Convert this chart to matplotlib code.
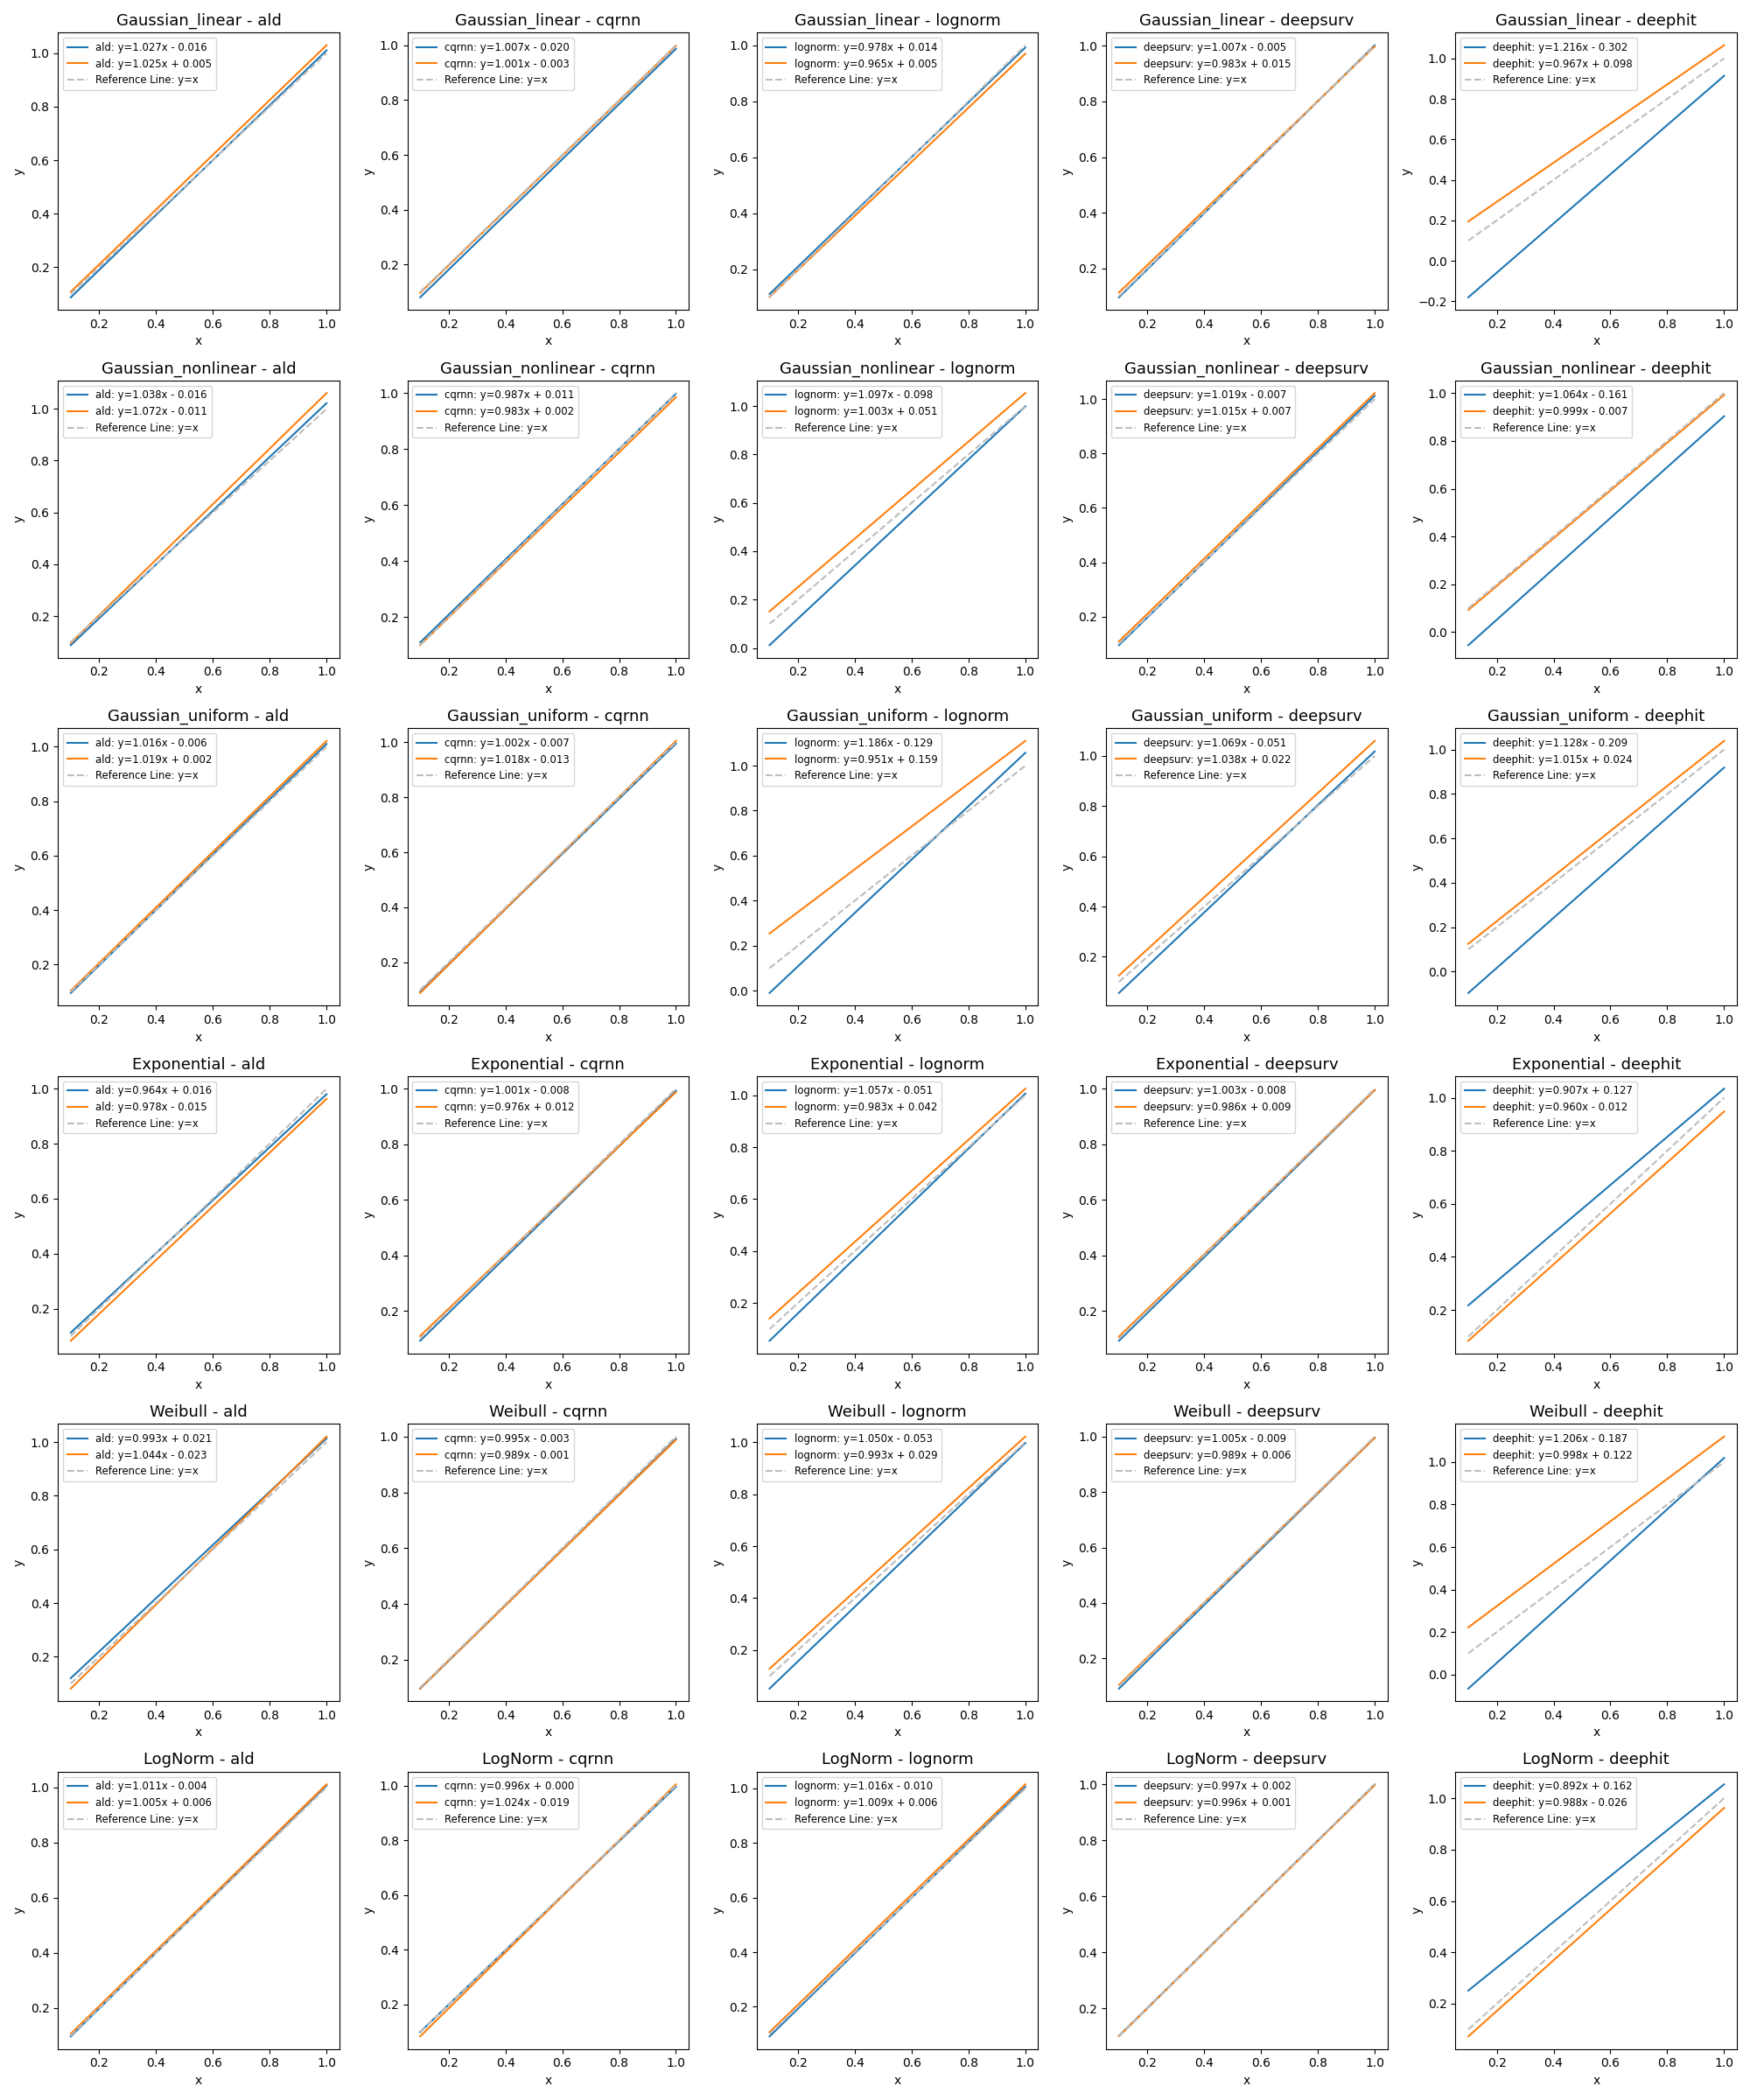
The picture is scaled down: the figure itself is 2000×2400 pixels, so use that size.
import numpy as np
import matplotlib
matplotlib.use('Agg')
import matplotlib.pyplot as plt

# 数据分布 / 模型
distributions = ['Gaussian_linear', 'Gaussian_nonlinear', 'Gaussian_uniform',
                 'Exponential', 'Weibull', 'LogNorm']
models = ['ald', 'cqrnn', 'lognorm', 'deepsurv', 'deephit']

x_range = np.array([0.1, 1.0])

# 每行一个分布，每列一个模型: (斜率, 截距)
slope_1 = [
    [1.027, 1.007, 0.978, 1.007, 1.216],
    [1.038, 0.987, 1.097, 1.019, 1.064],
    [1.016, 1.002, 1.186, 1.069, 1.128],
    [0.964, 1.001, 1.057, 1.003, 0.907],
    [0.993, 0.995, 1.050, 1.005, 1.206],
    [1.011, 0.996, 1.016, 0.997, 0.892],
]
intercept_1 = [
    [-0.016, -0.020, 0.014, -0.005, -0.302],
    [-0.016, 0.011, -0.098, -0.007, -0.161],
    [-0.006, -0.007, -0.129, -0.051, -0.209],
    [0.016, -0.008, -0.051, -0.008, 0.127],
    [0.021, -0.003, -0.053, -0.009, -0.187],
    [-0.004, 0.000, -0.010, 0.002, 0.162],
]
slope_2 = [
    [1.025, 1.001, 0.965, 0.983, 0.967],
    [1.072, 0.983, 1.003, 1.015, 0.999],
    [1.019, 1.018, 0.951, 1.038, 1.015],
    [0.978, 0.976, 0.983, 0.986, 0.960],
    [1.044, 0.989, 0.993, 0.989, 0.998],
    [1.005, 1.024, 1.009, 0.996, 0.988],
]
intercept_2 = [
    [0.005, -0.003, 0.005, 0.015, 0.098],
    [-0.011, 0.002, 0.051, 0.007, -0.007],
    [0.002, -0.013, 0.159, 0.022, 0.024],
    [-0.015, 0.012, 0.042, 0.009, -0.012],
    [-0.023, -0.001, 0.029, 0.006, 0.122],
    [0.006, -0.019, 0.006, 0.001, -0.026],
]


def fmt(name, a, b):
    sign = '-' if b < 0 else '+'
    return '{}: y={:.3f}x {} {:.3f}'.format(name, a, sign, abs(b))


fig, axes = plt.subplots(len(distributions), len(models), figsize=(20, 24))
for i, dist in enumerate(distributions):
    for j, m in enumerate(models):
        ax = axes[i, j]
        a1, b1 = slope_1[i][j], intercept_1[i][j]
        a2, b2 = slope_2[i][j], intercept_2[i][j]
        ax.plot(x_range, a1 * x_range + b1, color='#1f77b4', label=fmt(m, a1, b1))
        ax.plot(x_range, a2 * x_range + b2, color='#ff7f0e', label=fmt(m, a2, b2))
        ax.plot(x_range, x_range, '--', color='#bdbdbd', label='Reference Line: y=x')
        ax.set_title('{} - {}'.format(dist, m), fontsize=13)
        ax.set_xlabel('x')
        ax.set_ylabel('y')
        ax.legend(loc='upper left', fontsize='small')

plt.tight_layout()
plt.savefig('out.png', dpi=100)
